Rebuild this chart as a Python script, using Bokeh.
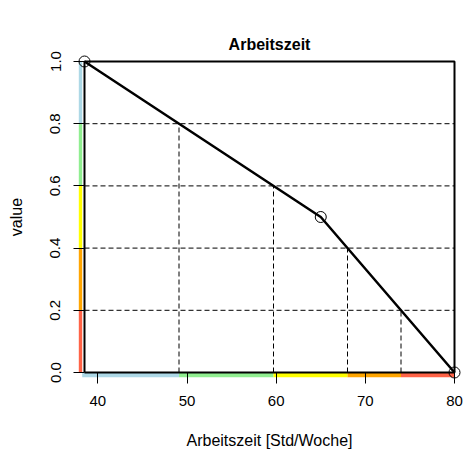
import numpy as np
from bokeh.plotting import figure
from bokeh.models import FixedTicker, PrintfTickFormatter, Range1d, LinearAxis, Title
from bokeh.embed import file_html
from bokeh.resources import INLINE

# ---- data ----
title_text = "Arbeitszeit"
x_pts = [38.5, 65, 80]
y_pts = [1.0, 0.5, 0.0]
levels = [0.2, 0.4, 0.6, 0.8]
x_ticks = [40, 50, 60, 70, 80]
y_ticks = [0.0, 0.2, 0.4, 0.6, 0.8, 1.0]
band_colors = ["tomato", "orange", "yellow", "lightgreen", "lightblue"]  # value bands 0-0.2 ... 0.8-1.0

xmin, xmax = 38.5, 80.0
ymin, ymax = 0.0, 1.0

# ---- geometry (pixels) ----
PAD_L, PAD_R, PAD_T, PAD_B = 8, 8, 8, 8
BOX_W, BOX_H = 370, 311
FRAME_W, FRAME_H = BOX_W + PAD_L + PAD_R, BOX_H + PAD_T + PAD_B
px_x = BOX_W / (xmax - xmin)
px_y = BOX_H / (ymax - ymin)

p = figure(frame_width=FRAME_W, frame_height=FRAME_H,
           min_border_left=76, min_border_right=3, min_border_top=53, min_border_bottom=71,
           x_range=Range1d(xmin - PAD_L / px_x, xmax + PAD_R / px_x),
           y_range=Range1d(ymin - PAD_B / px_y, ymax + PAD_T / px_y),
           output_backend="svg", toolbar_location=None)
p.outline_line_color = None
p.grid.visible = False
p.background_fill_color = "white"
p.border_fill_color = "white"

FONT = "Liberation Sans"

xax = p.below[0]
yax = p.left[0]

# invisible spacer between plotting area and title (closest to the frame)
spacer = LinearAxis(ticker=FixedTicker(ticks=[]), axis_line_color=None,
                    major_tick_in=0, major_tick_out=31, major_tick_line_color=None,
                    minor_tick_in=0, minor_tick_out=0, minor_tick_line_color=None,
                    major_label_standoff=0)
p.add_layout(spacer, "above")

# title, outside the spacer
p.add_layout(Title(text=title_text, align="center", vertical_align="bottom",
                   text_font=FONT, text_font_size="16px", text_font_style="bold",
                   text_color="black", standoff=2), "above")

for ax in (xax, yax):
    ax.axis_line_color = None
    ax.major_tick_in = 8
    ax.major_tick_out = 3
    ax.major_tick_line_color = "black"
    ax.major_tick_line_width = 1
    ax.minor_tick_line_color = None
    ax.major_label_text_font = FONT
    ax.major_label_text_font_size = "15px"
    ax.major_label_text_color = "black"
    ax.axis_label_text_font = FONT
    ax.axis_label_text_font_size = "16px"
    ax.axis_label_text_font_style = "normal"
    ax.axis_label_text_color = "black"

xax.ticker = FixedTicker(ticks=x_ticks)
yax.ticker = FixedTicker(ticks=y_ticks)
yax.formatter = PrintfTickFormatter(format="%.1f")
xax.axis_label = "Arbeitszeit [Std/Woche]"
yax.axis_label = "value"
yax.major_label_orientation = "vertical"
xax.major_label_standoff = 12
yax.major_label_standoff = 13
xax.axis_label_standoff = 23
yax.axis_label_standoff = 23

# crossing points of the curve with the value levels
xs_desc = np.array(x_pts)[::-1]
ys_asc = np.array(y_pts)[::-1]
level_x = [float(np.interp(lv, ys_asc, xs_desc)) for lv in levels]

# ---- coloured strips ----
y_edges = [ymin] + levels + [ymax]
p.quad(left=xmin - 5.7 / px_x, right=xmin - 2.3 / px_x,
       bottom=y_edges[:-1], top=y_edges[1:], fill_color=band_colors, line_color=None)

x_edges = [xmin] + level_x[::-1] + [xmax]
x_lefts = list(x_edges[:-1])
x_lefts[0] = xmin - 2.3 / px_x
p.quad(left=x_lefts, right=x_edges[1:], bottom=ymin - 4.7 / px_y, top=ymin,
       fill_color=band_colors[::-1], line_color=None)

# ---- dashed guide lines ----
p.segment(x0=[xmin] * len(levels), x1=[xmax] * len(levels), y0=levels, y1=levels,
          line_color="black", line_width=1, line_dash="5 3")
p.segment(x0=level_x, x1=level_x, y0=[ymin] * len(levels), y1=levels,
          line_color="black", line_width=1, line_dash="5 3")

# ---- box ----
p.line([xmin, xmin, xmax, xmax, xmin], [ymin, ymax, ymax, ymin, ymin],
       line_color="black", line_width=2)

# ---- curve ----
p.line(x_pts, y_pts, line_color="black", line_width=2.5)
p.scatter(x_pts, y_pts, marker="circle", size=11, fill_color=None,
          line_color="black", line_width=1)

open("out.html", "w").write(file_html(p, INLINE))
